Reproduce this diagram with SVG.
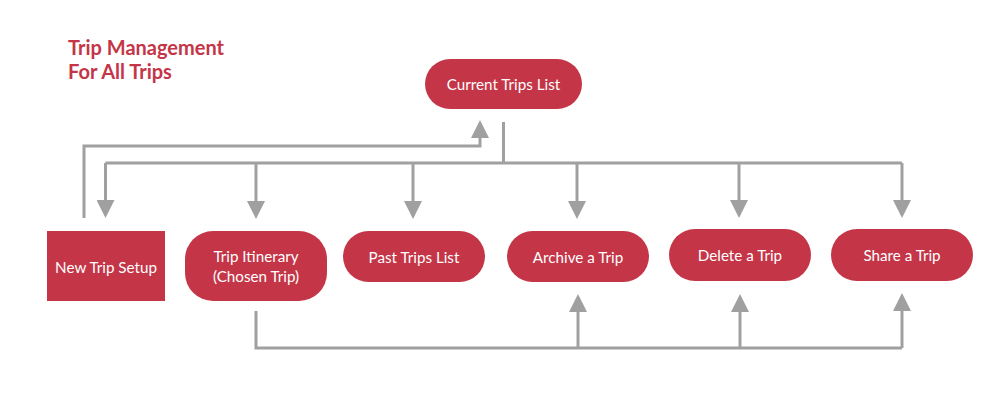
<svg xmlns="http://www.w3.org/2000/svg" width="1008" height="419" viewBox="0 0 1008 419">
<defs>
<style>
.node{fill:#C43547}
.lbl{font-family:Lato,"Liberation Sans",sans-serif;font-size:15.2px;fill:#ffffff;text-anchor:middle;dominant-baseline:central}
.title{font-family:Lato,"Liberation Sans",sans-serif;font-size:20px;font-weight:bold;fill:#C43547}
.ln{fill:none;stroke:#A0A0A0;stroke-width:3}
</style>
<marker id="ah" viewBox="0 0 19 18" refX="0" refY="9" markerWidth="19" markerHeight="18" markerUnits="userSpaceOnUse" orient="auto">
<path d="M0,0 L18,9 L0,18 Z" fill="#A0A0A0"/>
</marker>
</defs>
<rect width="1008" height="419" fill="#ffffff"/>
<g id="title">
<text class="title" x="68" y="55">Trip Management</text>
<text class="title" x="68" y="79">For All Trips</text>
</g>
<g id="connectors">
<path class="ln" d="M84,218 V146 H480 V138" marker-end="url(#ah)"/>
<path class="ln" d="M503.5,122 V163"/>
<path class="ln" d="M105.5,163 H902"/>
<path class="ln" d="M105.5,163 V200" marker-end="url(#ah)"/>
<path class="ln" d="M256,163 V201" marker-end="url(#ah)"/>
<path class="ln" d="M413,163 V201" marker-end="url(#ah)"/>
<path class="ln" d="M577,163 V201" marker-end="url(#ah)"/>
<path class="ln" d="M739,163 V200" marker-end="url(#ah)"/>
<path class="ln" d="M902,163 V200" marker-end="url(#ah)"/>
<path class="ln" d="M256,311 V348 H902"/>
<path class="ln" d="M578,348 V312" marker-end="url(#ah)"/>
<path class="ln" d="M740,348 V312" marker-end="url(#ah)"/>
<path class="ln" d="M902,348 V311" marker-end="url(#ah)"/>
</g>
<g id="current-trips">
<rect class="node" x="425" y="59" width="157" height="50" rx="25"/>
<text class="lbl" x="503.5" y="84">Current Trips List</text>
</g>
<g id="new-trip">
<rect class="node" x="47" y="231" width="118" height="70"/>
<text class="lbl" x="106" y="267">New Trip Setup</text>
</g>
<g id="itinerary">
<rect class="node" x="185" y="231" width="142" height="70" rx="28"/>
<text class="lbl" x="256" y="256">Trip Itinerary</text>
<text class="lbl" x="256" y="276">(Chosen Trip)</text>
</g>
<g id="past-trips">
<rect class="node" x="343" y="231" width="142" height="51" rx="25.5"/>
<text class="lbl" x="414" y="256.5">Past Trips List</text>
</g>
<g id="archive">
<rect class="node" x="507" y="231" width="142" height="51" rx="25.5"/>
<text class="lbl" x="578" y="256.5">Archive a Trip</text>
</g>
<g id="delete">
<rect class="node" x="669" y="229" width="142" height="52" rx="26"/>
<text class="lbl" x="740" y="255">Delete a Trip</text>
</g>
<g id="share">
<rect class="node" x="831" y="229" width="142" height="52" rx="26"/>
<text class="lbl" x="902" y="255">Share a Trip</text>
</g>
</svg>
